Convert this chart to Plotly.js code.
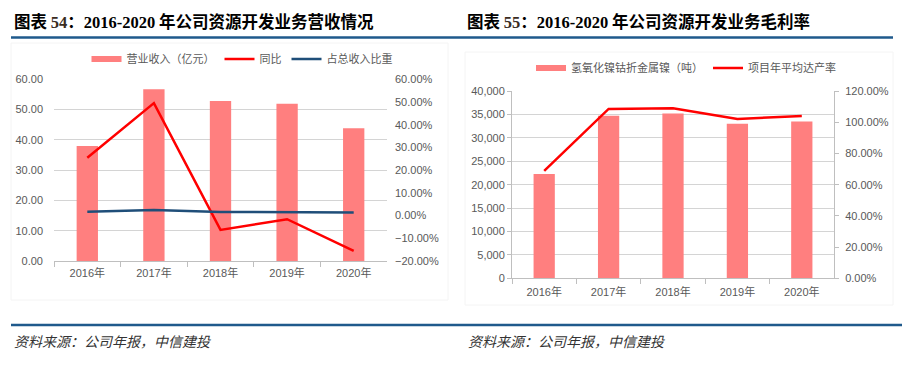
<!DOCTYPE html>
<html>
<head>
<meta charset="utf-8">
<script src="https://cdn.plot.ly/plotly-3.0.1.min.js"></script>
<style>
html,body{margin:0;padding:0;background:#fff;}
#chart{width:902px;height:368px;}
</style>
</head>
<body>
<div id="chart"></div>
<script>
// ---- data ----
var years = ['2016年', '2017年', '2018年', '2019年', '2020年'];
var revenue = [38.0, 56.7, 52.8, 51.9, 43.8];           // 营业收入（亿元）
var yoy = [0.255, 0.495, -0.063, -0.016, -0.155];       // 同比
var share = [0.017, 0.024, 0.016, 0.016, 0.013];        // 占总收入比重
var nickel = [22300, 34700, 35200, 33000, 33500];       // 氢氧化镍钴折金属镍（吨）
var utilization = [0.688, 1.085, 1.089, 1.021, 1.040];  // 项目年平均达产率

var W = 902, H = 368;
function px(x) { return x / W; }
function py(y) { return 1 - y / H; }

var tickFont = {family: 'Liberation Sans, Arial, Noto Sans CJK SC', size: 11, color: '#595959'};
var legFont = {family: 'Liberation Sans, Arial, Noto Sans CJK SC', size: 11, color: '#595959'};
var barColor = '#FF7F7F';
var gridColor = '#d4d4d4';
var axisColor = '#bfbfbf';
var ruleColor = '#1F5A8C';

var traces = [
  // left chart
  {type: 'bar', x: years, y: revenue, xaxis: 'x', yaxis: 'y', width: 0.32,
   marker: {color: barColor}, showlegend: false, hoverinfo: 'skip'},
  {type: 'scatter', mode: 'lines', x: [null], y: [null], name: '营业收入（亿元）',
   line: {color: barColor, width: 6}, legend: 'legend', xaxis: 'x', yaxis: 'y'},
  {type: 'scatter', mode: 'lines', x: years, y: yoy, xaxis: 'x', yaxis: 'y2', name: '同比',
   line: {color: '#FF0000', width: 2.5}, legend: 'legend'},
  {type: 'scatter', mode: 'lines', x: years, y: share, xaxis: 'x', yaxis: 'y2', name: '占总收入比重',
   line: {color: '#1F4E79', width: 2.5}, legend: 'legend'},
  // right chart
  {type: 'bar', x: years, y: nickel, xaxis: 'x2', yaxis: 'y3', width: 0.33,
   marker: {color: barColor}, showlegend: false, hoverinfo: 'skip'},
  {type: 'scatter', mode: 'lines', x: [null], y: [null], name: '氢氧化镍钴折金属镍（吨）',
   line: {color: barColor, width: 6}, legend: 'legend2', xaxis: 'x2', yaxis: 'y3'},
  {type: 'scatter', mode: 'lines', x: years, y: utilization, xaxis: 'x2', yaxis: 'y4', name: '项目年平均达产率',
   line: {color: '#FF0000', width: 2.5}, legend: 'legend2'}
];

function titleText(num, rest) {
  return '<b>图表 <span style="font-family:Liberation Serif, Times New Roman;color:#3a2c1e">' + num +
    '</span>：<span style="font-family:Liberation Serif, Times New Roman">2016-2020</span> ' + rest + '</b>';
}

var layout = {
  width: W, height: H,
  margin: {l: 0, r: 0, t: 0, b: 0},
  paper_bgcolor: '#ffffff', plot_bgcolor: '#ffffff',
  showlegend: true,
  xaxis: {domain: [px(54), px(387)], anchor: 'y', type: 'category',
    showline: true, linecolor: axisColor, linewidth: 1, ticks: 'outside', tickson: 'boundaries',
    ticklen: 5, tickcolor: axisColor, showgrid: false, tickfont: tickFont, ticklabelstandoff: 2, fixedrange: true},
  yaxis: {domain: [py(261), py(79.3)], anchor: 'x', range: [0, 60], dtick: 10, tickformat: '.2f',
    showgrid: true, gridcolor: gridColor, zeroline: false, showline: false, ticks: '',
    tickfont: tickFont, ticklabelstandoff: 10},
  yaxis2: {overlaying: 'y', anchor: 'x', side: 'right', range: [-0.2, 0.6], dtick: 0.1, tickformat: '.2%',
    showgrid: false, zeroline: false, showline: false, ticks: '', tickfont: tickFont, ticklabelstandoff: 7},
  xaxis2: {domain: [px(512), px(834)], anchor: 'y3', type: 'category',
    showline: true, linecolor: axisColor, linewidth: 1, ticks: 'outside', tickson: 'boundaries',
    ticklen: 5, tickcolor: axisColor, showgrid: false, tickfont: tickFont, ticklabelstandoff: 3},
  yaxis3: {domain: [py(278.3), py(91)], anchor: 'x2', range: [0, 40000], dtick: 5000, tickformat: ',d',
    showgrid: true, gridcolor: gridColor, zeroline: false, showline: true, linecolor: axisColor,
    ticks: 'outside', ticklen: 4, tickcolor: axisColor, tickfont: tickFont},
  yaxis4: {overlaying: 'y3', anchor: 'x2', side: 'right', range: [0, 1.2], dtick: 0.2, tickformat: '.2%',
    showgrid: false, zeroline: false, showline: true, linecolor: axisColor,
    ticks: 'outside', ticklen: 4, tickcolor: axisColor, tickfont: tickFont, ticklabelstandoff: 4},
  legend: {orientation: 'h', x: px(242), y: py(59), xanchor: 'center', yanchor: 'middle',
    font: legFont, itemgap: 12, bgcolor: 'rgba(0,0,0,0)', traceorder: 'normal'},
  legend2: {orientation: 'h', x: px(686), y: py(68), xanchor: 'center', yanchor: 'middle',
    font: legFont, itemgap: 13, bgcolor: 'rgba(0,0,0,0)', traceorder: 'normal'},
  shapes: [
    {type: 'rect', xref: 'paper', yref: 'paper', x0: px(11), x1: px(448), y0: py(300), y1: py(43),
     line: {color: '#f4f4f4', width: 1}, layer: 'below'},
    {type: 'rect', xref: 'paper', yref: 'paper', x0: px(465), x1: px(893), y0: py(305), y1: py(52),
     line: {color: '#f4f4f4', width: 1}, layer: 'below'},
    {type: 'line', xref: 'paper', yref: 'paper', x0: px(11), x1: px(893), y0: py(37.5), y1: py(37.5),
     line: {color: ruleColor, width: 2.5}},
    {type: 'line', xref: 'paper', yref: 'paper', x0: px(11), x1: px(902), y0: py(325), y1: py(325),
     line: {color: ruleColor, width: 2.5}}
  ],
  annotations: [
    {xref: 'paper', yref: 'paper', x: px(12), y: py(21), xanchor: 'left', yanchor: 'middle', showarrow: false,
     text: titleText('54', '年公司资源开发业务营收情况'),
     font: {family: 'Noto Sans CJK SC, sans-serif', size: 16.5, color: '#000000'}},
    {xref: 'paper', yref: 'paper', x: px(465), y: py(21), xanchor: 'left', yanchor: 'middle', showarrow: false,
     text: titleText('55', '年公司资源开发业务毛利率'),
     font: {family: 'Noto Sans CJK SC, sans-serif', size: 16.5, color: '#000000'}},
    {xref: 'paper', yref: 'paper', x: px(12), y: py(341), xanchor: 'left', yanchor: 'middle', showarrow: false,
     text: '<i>资料来源：公司年报，中信建投</i>',
     font: {family: 'Noto Sans CJK SC, sans-serif', size: 14, color: '#333333'}},
    {xref: 'paper', yref: 'paper', x: px(466), y: py(341), xanchor: 'left', yanchor: 'middle', showarrow: false,
     text: '<i>资料来源：公司年报，中信建投</i>',
     font: {family: 'Noto Sans CJK SC, sans-serif', size: 14, color: '#333333'}}
  ]
};

Plotly.newPlot('chart', traces, layout, {displayModeBar: false, staticPlot: true});
</script>
</body>
</html>
